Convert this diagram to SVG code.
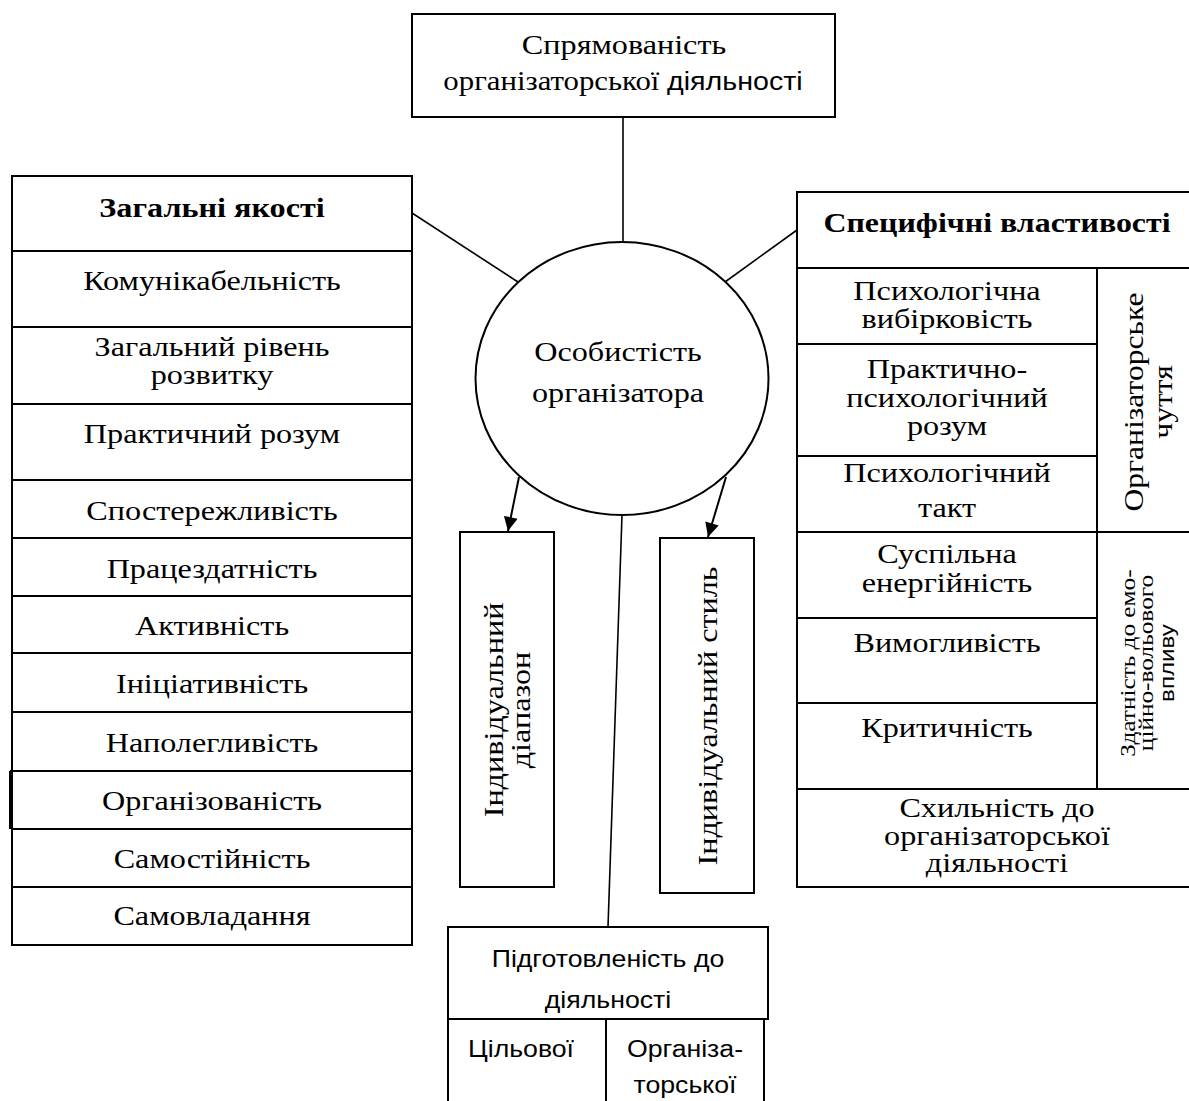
<svg xmlns="http://www.w3.org/2000/svg" width="1189" height="1101" viewBox="0 0 1189 1101">
<style>
  .box { fill: #ffffff; stroke: #000000; stroke-width: 2; }
  .ln { stroke: #000000; stroke-width: 2; fill: none; }
  .con { stroke: #000000; stroke-width: 1.6; fill: none; }
  .t { font-family: "Liberation Serif", "Times New Roman", serif; font-size: 28px; fill: #000; text-anchor: middle; }
  .b { font-weight: bold; }
  .s { font-family: "Liberation Sans", Arial, sans-serif; font-size: 23px; fill: #000; text-anchor: middle; }
  .sm { font-family: "Liberation Serif", "Times New Roman", serif; font-size: 22px; fill: #000; text-anchor: middle; }
  .sms { font-family: "Liberation Sans", Arial, sans-serif; font-size: 21px; fill: #000; text-anchor: middle; }
</style>
<defs>
  <marker id="arr" viewBox="0 0 10 10" refX="10" refY="5" markerWidth="15" markerHeight="14" markerUnits="userSpaceOnUse" orient="auto">
    <path d="M0,0 L10,5 L0,10 z" fill="#000"/>
  </marker>
  <clipPath id="clipPV"><rect x="-200" y="268" width="400" height="76"/></clipPath>
</defs>
<rect x="0" y="0" width="1189" height="1101" fill="#ffffff"/>

<g id="connectors">
  <line class="con" x1="623" y1="117" x2="623" y2="242"/>
  <line class="con" x1="412" y1="213" x2="518" y2="282"/>
  <line class="con" x1="797" y1="230" x2="725" y2="282"/>
  <line class="con" x1="622" y1="515" x2="608" y2="927"/>
  <line class="ln" x1="519" y1="477" x2="508" y2="531" marker-end="url(#arr)"/>
  <line class="ln" x1="726" y1="477" x2="708" y2="537" marker-end="url(#arr)"/>
</g>

<g id="node-top">
  <rect class="box" x="412" y="14" width="423" height="103"/>
  <g transform="translate(624,0) scale(1.15,1)">
    <text class="t" x="0" y="54">Спрямованість</text>
  </g>
  <g transform="translate(623,0) scale(1.1,1)">
    <text class="t" x="0" y="90">організаторської <tspan font-family="Liberation Sans, Arial, sans-serif" font-size="26">діяльності</tspan></text>
  </g>
</g>

<g id="node-center">
  <ellipse class="box" cx="622" cy="378.5" rx="146.5" ry="136.5"/>
  <g transform="translate(618,0) scale(1.15,1)">
    <text class="t" x="0" y="361">Особистість</text>
    <text class="t" x="0" y="402">організатора</text>
  </g>
</g>

<g id="node-general">
  <rect class="box" x="12" y="176" width="400" height="769"/>
  <line class="ln" x1="12" y1="251" x2="412" y2="251"/>
  <line class="ln" x1="12" y1="327" x2="412" y2="327"/>
  <line class="ln" x1="12" y1="404" x2="412" y2="404"/>
  <line class="ln" x1="12" y1="480" x2="412" y2="480"/>
  <line class="ln" x1="12" y1="538" x2="412" y2="538"/>
  <line class="ln" x1="12" y1="596" x2="412" y2="596"/>
  <line class="ln" x1="12" y1="653" x2="412" y2="653"/>
  <line class="ln" x1="12" y1="712" x2="412" y2="712"/>
  <line class="ln" x1="10" y1="771" x2="412" y2="771"/>
  <line class="ln" x1="10" y1="771" x2="10" y2="829"/>
  <line class="ln" x1="12" y1="829" x2="412" y2="829"/>
  <line class="ln" x1="12" y1="887" x2="412" y2="887"/>
  <g transform="translate(212,0) scale(1.15,1)">
    <text class="t b" x="0" y="217">Загальні якості</text>
    <text class="t" x="0" y="290">Комунікабельність</text>
    <text class="t" x="0" y="356">Загальний рівень</text>
    <text class="t" x="0" y="384">розвитку</text>
    <text class="t" x="0" y="443">Практичний розум</text>
    <text class="t" x="0" y="520">Спостережливість</text>
    <text class="t" x="0" y="578">Працездатність</text>
    <text class="t" x="0" y="635">Активність</text>
    <text class="t" x="0" y="693">Ініціативність</text>
    <text class="t" x="0" y="752">Наполегливість</text>
    <text class="t" x="0" y="810">Організованість</text>
    <text class="t" x="0" y="868">Самостійність</text>
    <text class="t" x="0" y="925">Самовладання</text>
  </g>
</g>

<g id="node-specific">
  <rect class="box" x="797" y="192" width="400" height="695"/>
  <line class="ln" x1="797" y1="268" x2="1190" y2="268"/>
  <line class="ln" x1="1097" y1="268" x2="1097" y2="789"/>
  <line class="ln" x1="797" y1="344" x2="1097" y2="344"/>
  <line class="ln" x1="797" y1="456" x2="1097" y2="456"/>
  <line class="ln" x1="797" y1="532" x2="1190" y2="532"/>
  <line class="ln" x1="797" y1="618" x2="1097" y2="618"/>
  <line class="ln" x1="797" y1="703" x2="1097" y2="703"/>
  <line class="ln" x1="797" y1="789" x2="1190" y2="789"/>
  <g transform="translate(997,0) scale(1.14,1)">
    <text class="t b" x="0" y="232">Специфічні властивості</text>
  </g>
  <g transform="translate(947,0) scale(1.15,1)">
    <text class="t" x="0" y="300">Психологічна</text>
    <text class="t" x="0" y="328" clip-path="url(#clipPV)">вибірковість</text>
    <text class="t" x="0" y="378">Практично-</text>
    <text class="t" x="0" y="407">психологічний</text>
    <text class="t" x="0" y="435">розум</text>
    <text class="t" x="0" y="482">Психологічний</text>
    <text class="t" x="0" y="517">такт</text>
    <text class="t" x="0" y="563">Суспільна</text>
    <text class="t" x="0" y="592">енергійність</text>
    <text class="t" x="0" y="652">Вимогливість</text>
    <text class="t" x="0" y="737">Критичність</text>
  </g>
  <g transform="translate(997,0) scale(1.15,1)">
    <text class="t" x="0" y="817">Схильність до</text>
    <text class="t" x="0" y="845">організаторської</text>
    <text class="t" x="0" y="872">діяльності</text>
  </g>
  <g transform="translate(1143,402) rotate(-90) scale(1.13,1)">
    <text class="t" x="0" y="0">Організаторське</text>
    <text class="t" x="0" y="29">чуття</text>
  </g>
  <g transform="translate(1135,663) rotate(-90) scale(1.15,1)">
    <text class="sm" x="0" y="0">Здатність до емо-</text>
    <text class="sm" x="0" y="18">ційно-вольового</text>
    <text class="sms" x="0" y="39">впливу</text>
  </g>
</g>

<g id="node-range">
  <rect class="box" x="460" y="532" width="94" height="355"/>
  <g transform="translate(503,710) rotate(-90) scale(1.15,1)">
    <text class="t" x="0" y="0">Індивідуальний</text>
    <text class="t" x="0" y="27">діапазон</text>
  </g>
</g>

<g id="node-style">
  <rect class="box" x="660" y="538" width="94" height="355"/>
  <g transform="translate(717,716) rotate(-90) scale(1.15,1)">
    <text class="t" x="0" y="0">Індивідуальний стиль</text>
  </g>
</g>

<g id="node-readiness">
  <rect class="box" x="448" y="927" width="320" height="92"/>
  <line class="ln" x1="448" y1="1019" x2="448" y2="1102"/>
  <line class="ln" x1="606" y1="1019" x2="606" y2="1102"/>
  <line class="ln" x1="764" y1="1019" x2="764" y2="1102"/>
  <g transform="translate(608,0) scale(1.16,1)">
    <text class="s" x="0" y="967">Підготовленість до</text>
    <text class="s" x="0" y="1008">діяльності</text>
  </g>
  <g transform="translate(521,0) scale(1.16,1)">
    <text class="s" x="0" y="1057">Цільової</text>
  </g>
  <g transform="translate(685,0) scale(1.16,1)">
    <text class="s" x="0" y="1057">Організа-</text>
    <text class="s" x="0" y="1093">торської</text>
  </g>
</g>
</svg>
